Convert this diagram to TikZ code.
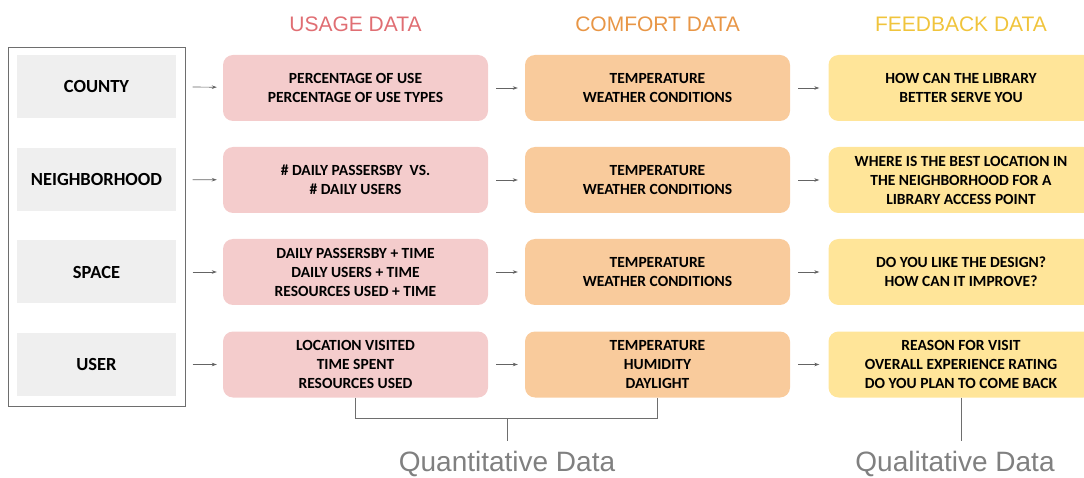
\documentclass[tikz,border=0pt]{standalone}
\usepackage{fontspec}
\setmainfont{Carlito}
\newfontfamily\headfont{Liberation Sans}
\usetikzlibrary{positioning, arrows.meta}

\begin{document}
\begin{tikzpicture}[x=1pt,y=-1pt,
    every node/.style={align=center, inner sep=0pt, font=\bfseries\fontsize{15.5}{19}\selectfont},
    levelbox/.style={fill=levelgray, minimum width=159pt, minimum height=63pt,
      font=\bfseries\fontsize{18.5}{22}\selectfont},
    usagebox/.style={fill=usagefill, rounded corners=10pt, minimum width=265pt, minimum height=66pt},
    comfortbox/.style={fill=comfortfill, rounded corners=10pt, minimum width=265pt, minimum height=66pt},
    feedbackbox/.style={fill=feedbackfill, rounded corners=10pt, minimum width=265pt, minimum height=66pt},
    coltitle/.style={anchor=base, font=\headfont\fontsize{21}{24}\selectfont},
    sumlabel/.style={anchor=base, text=sumgray, font=\headfont\fontsize{28}{32}\selectfont},
    link/.style={draw=arrowgray, line width=0.7pt, -{Stealth[length=5pt,width=3.5pt]}},
    bracket/.style={draw=bracketgray, line width=0.9pt}
  ]

    % Colors
    \definecolor{levelgray}{RGB}{239,239,239}
    \definecolor{usagefill}{RGB}{244,204,204}
    \definecolor{comfortfill}{RGB}{249,203,156}
    \definecolor{feedbackfill}{RGB}{255,229,153}
    \definecolor{usagetext}{RGB}{224,110,115}
    \definecolor{comforttext}{RGB}{232,150,70}
    \definecolor{feedbacktext}{RGB}{240,196,60}
    \definecolor{sumgray}{RGB}{128,128,128}
    \definecolor{arrowgray}{RGB}{100,100,100}
    \definecolor{bracketgray}{RGB}{110,110,110}

    \useasboundingbox (0,0) rectangle (1084,478);
    \clip (0,0) rectangle (1084,478);

    % ======================
    % Column titles
    % ======================
    \node[coltitle, text=usagetext] (tusage) at (355.5,32) {USAGE DATA};
    \node[coltitle, text=comforttext] (tcomfort) at (657.5,32) {COMFORT DATA};
    \node[coltitle, text=feedbacktext] (tfeedback) at (961,32) {FEEDBACK DATA};

    % ======================
    % Levels (left frame)
    % ======================
    \draw[draw=bracketgray, line width=0.9pt] (8.5,47.5) rectangle (185,406.5);
    \node[levelbox] (county) at (96.5,86.5) {COUNTY};
    \node[levelbox] (hood) at (96.5,179.5) {NEIGHBORHOOD};
    \node[levelbox] (space) at (96.5,272) {SPACE};
    \node[levelbox] (user) at (96.5,364.5) {USER};

    % ======================
    % Usage data
    % ======================
    \node[usagebox] (ucounty) at (355.5,88) {PERCENTAGE OF USE\\PERCENTAGE OF USE TYPES};
    \node[usagebox] (uhood) at (355.5,180) {\# DAILY PASSERSBY \ VS.\\\# DAILY USERS};
    \node[usagebox] (uspace) at (355.5,272) {DAILY PASSERSBY + TIME\\DAILY USERS + TIME\\RESOURCES USED + TIME};
    \node[usagebox] (uuser) at (355.5,364.5) {LOCATION VISITED\\TIME SPENT\\RESOURCES USED};

    % ======================
    % Comfort data
    % ======================
    \node[comfortbox] (ccounty) at (657.5,88) {TEMPERATURE\\WEATHER CONDITIONS};
    \node[comfortbox] (chood) at (657.5,180) {TEMPERATURE\\WEATHER CONDITIONS};
    \node[comfortbox] (cspace) at (657.5,272) {TEMPERATURE\\WEATHER CONDITIONS};
    \node[comfortbox] (cuser) at (657.5,364.5) {TEMPERATURE\\HUMIDITY\\DAYLIGHT};

    % ======================
    % Feedback data (runs off the right edge)
    % ======================
    \node[feedbackbox] (fcounty) at (961,88) {HOW CAN THE LIBRARY\\BETTER SERVE YOU};
    \node[feedbackbox] (fhood) at (961,180) {WHERE IS THE BEST LOCATION IN\\THE NEIGHBORHOOD FOR A\\LIBRARY ACCESS POINT};
    \node[feedbackbox] (fspace) at (961,272) {DO YOU LIKE THE DESIGN?\\HOW CAN IT IMPROVE?};
    \node[feedbackbox] (fuser) at (961,364.5) {REASON FOR VISIT\\OVERALL EXPERIENCE RATING\\DO YOU PLAN TO COME BACK};

    % Arrows
    \draw[link, shorten <=16.5pt, shorten >=6pt] (county) -- (ucounty);
    \draw[link, shorten <=16.5pt, shorten >=6pt] (hood) -- (uhood);
    \draw[link, shorten <=16.5pt, shorten >=6pt] (space) -- (uspace);
    \draw[link, shorten <=16.5pt, shorten >=6pt] (user) -- (uuser);

    \draw[link, shorten <=8pt, shorten >=7pt] (ucounty) -- (ccounty);
    \draw[link, shorten <=8pt, shorten >=7pt] (uhood) -- (chood);
    \draw[link, shorten <=8pt, shorten >=7pt] (uspace) -- (cspace);
    \draw[link, shorten <=8pt, shorten >=7pt] (uuser) -- (cuser);

    \draw[link, shorten <=8pt, shorten >=9pt] (ccounty) -- (fcounty);
    \draw[link, shorten <=8pt, shorten >=9pt] (chood) -- (fhood);
    \draw[link, shorten <=8pt, shorten >=9pt] (cspace) -- (fspace);
    \draw[link, shorten <=8pt, shorten >=9pt] (cuser) -- (fuser);

    % ======================
    % Quantitative / qualitative
    % ======================
    \node[sumlabel] (quant) at (507,471.5) {Quantitative Data};
    \node[sumlabel] (qual) at (955,471.5) {Qualitative Data};
    \coordinate (qmid) at (507,418.5);

    \draw[bracket] (uuser.south) -- ++(0,21) -| (cuser.south);
    \draw[bracket] (qmid) -- ++(0,22);
    \draw[bracket] (fuser.south) -- ++(0,43.5);

  \end{tikzpicture}
\end{document}
